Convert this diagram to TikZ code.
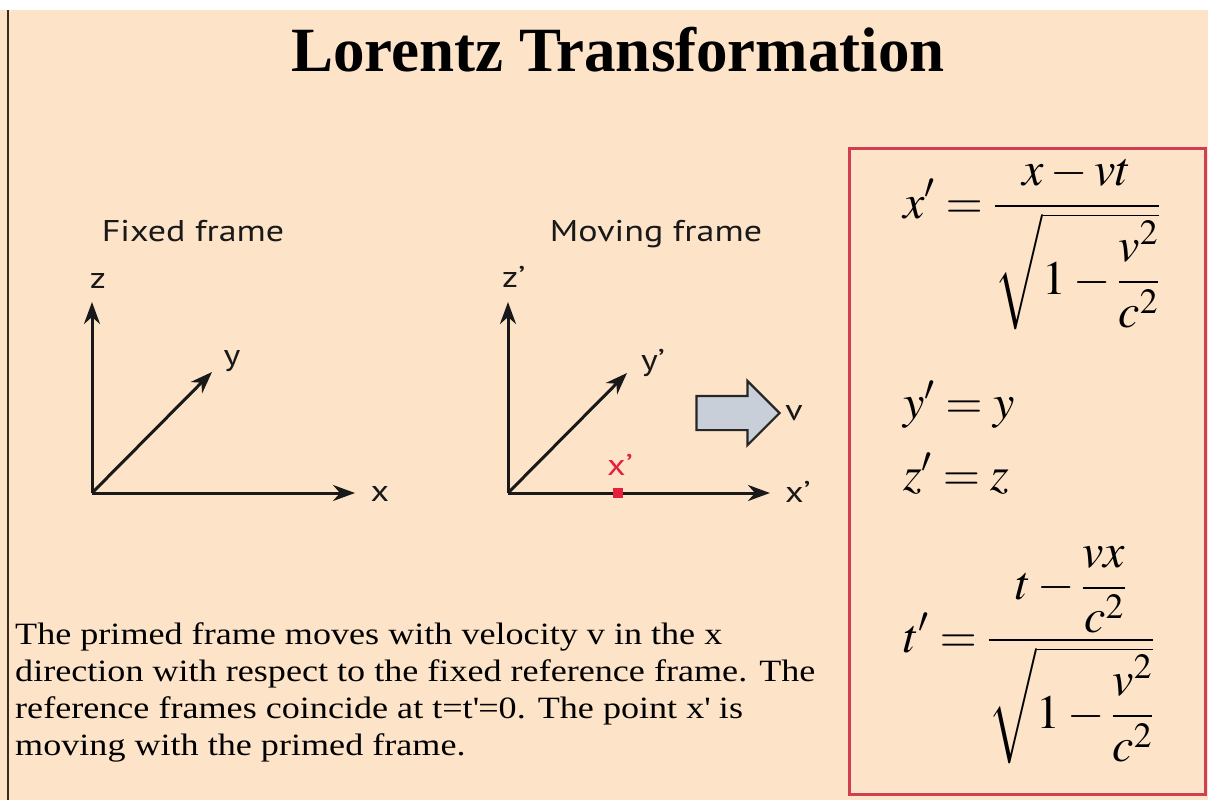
\documentclass[tikz,border=0pt]{standalone}
\usepackage{mathptmx}
\usepackage{fontspec}
\setmainfont{Liberation Serif}
\newfontfamily\labelfont[FakeStretch=1.2]{PT Sans}
\newfontfamily\parafont[FakeStretch=1.165]{Liberation Serif}
\usetikzlibrary{arrows.meta, positioning, shapes.arrows}
\definecolor{peach}{RGB}{253,228,201}
\definecolor{boxred}{RGB}{208,62,82}
\definecolor{dotred}{RGB}{228,32,60}
\definecolor{arrowgray}{RGB}{201,207,216}
\definecolor{edge}{RGB}{60,42,32}
\tikzset{
    axis/.style={-{Stealth[length=22pt, width=16pt, inset=7pt]}, line width=3pt, black!90},
    axislabel/.style={font=\labelfont\fontsize{30}{32}\selectfont, inner sep=0pt, text=black!90},
    heading/.style={font=\labelfont\fontsize{30}{34}\selectfont, inner sep=0pt, anchor=base, text=black!90},
    eqn/.style={font=\fontsize{48}{56}\selectfont, inner sep=0pt, anchor=base west},
    velarrow/.style={single arrow, draw=black!85, line width=2.2pt, fill=arrowgray, inner xsep=0pt, inner ysep=16pt, single arrow head extend=15pt, minimum height=83pt},
    eqbox/.style={draw=boxred, line width=2.6pt, inner sep=0pt, minimum width=356pt, minimum height=646pt, anchor=north west}
}

\begin{document}
\begin{tikzpicture}[x=1pt, y=-1pt]
			\useasboundingbox (0,0) rectangle (1208,800);
			\fill[white] (0,0) rectangle (1208,800);
			\fill[peach] (0,10) rectangle (1208,800);
			\draw[edge, line width=2pt] (8,10) -- (8,800);

			\node (title) [anchor=base, inner sep=0pt, font=\bfseries\fontsize{63}{70}\selectfont] at (618,72) {Lorentz Transformation};

			% fixed frame
			\node (fixhead) [heading] at (193,241) {Fixed frame};
			\coordinate (o1) at (92,493);
			\coordinate (z1) at (92,302);
			\coordinate (y1) at (212,372);
			\coordinate (x1) at (355,493);
			\draw [axis] (o1) -- (z1);
			\draw [axis] (o1) -- (y1);
			\draw [axis] (o1) -- (x1);
			\node (zlab) [axislabel, anchor=base] at (98,288) {z};
			\node (ylab) [axislabel, anchor=base] at (232,365) {y};
			\node (xlab) [axislabel, anchor=base] at (380,501) {x};

			% moving frame
			\node (movhead) [heading] at (656,241) {Moving frame};
			\coordinate (o2) at (508,493);
			\coordinate (z2) at (508,302);
			\coordinate (y2) at (627,373);
			\coordinate (x2) at (770,493);
			\draw [axis] (o2) -- (z2);
			\draw [axis] (o2) -- (y2);
			\draw [axis] (o2) -- (x2);
			\node (zplab) [axislabel, anchor=base west] at (502,287) {z’};
			\node (yplab) [axislabel, anchor=base west] at (641,370) {y’};
			\node (xplab) [axislabel, anchor=base west] at (785,502) {x’};
			\node (pt) [rectangle, fill=dotred, inner sep=0pt, minimum size=10pt] at (618,493) {};
			\node (ptlab) [axislabel, text=dotred, anchor=base] at (620,475) {x’};
			\node (vel) [velarrow] at (729.5,413) {};
			\node (vlab) [axislabel, anchor=west] at ([xshift=4pt]vel.tip) {v};

			% equations
			\node (box) [eqbox] at (848,147) {};
			\node (eqx) [eqn] at (903,218) {$\displaystyle x'=\frac{x-vt}{\sqrt{1-\displaystyle\frac{v^{2}}{c^{2}}}}$};
			\node (eqy) [eqn] at (903,418) {$y'=y$};
			\node (eqz) [eqn] at (903,490) {$z'=z$};
			\node (eqt) [eqn] at (903,652) {$\displaystyle t'=\frac{t-\displaystyle\frac{vx}{c^{2}}}{\sqrt{1-\displaystyle\frac{v^{2}}{c^{2}}}}$};

			% explanation
			\node (note) [anchor=north west, inner sep=0pt, align=left, font=\parafont\fontsize{31}{37.3}\selectfont] at (15,622)
				{The primed frame moves with velocity v in the x\\
				direction with respect to the fixed reference frame. The\\
				reference frames coincide at t=t\textquotesingle=0. The point x\textquotesingle{} is\\
				moving with the primed frame.};
		\end{tikzpicture}
\end{document}
